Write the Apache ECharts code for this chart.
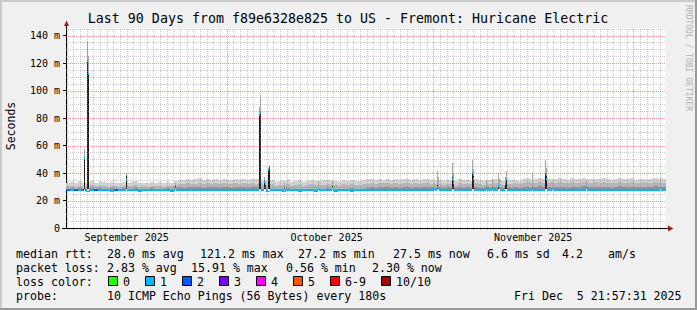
<!DOCTYPE html>
<html><head><meta charset="utf-8">
<script src="https://cdn.jsdelivr.net/npm/echarts@6/dist/echarts.min.js"></script>
<style>html,body{margin:0;padding:0;background:#f0f0f0}#c{width:697px;height:310px}</style>
</head><body><div id="c"></div>
<script>
// ---------------- data ----------------
const chartTitle = 'Last 90 Days from f89e6328e825 to US - Fremont: Huricane Electric';
const yTicks = [0, 20, 40, 60, 80, 100, 120, 140];
const yMax = 145.5;
const monthLabels = ['September 2025', 'October 2025', 'November 2025'];
const monthLabelDays = [9.085, 39.085, 70.085];   // days since start (Sep 6 21:57)
const monthStartDays = [24.085, 55.085, 85.085];  // Oct 1, Nov 1, Dec 1
const firstMidnight = 0.085;
const colDays = 0.6;                                // one smoke column = 0.6 day

const smokeTop = [
  32.8,33.4,32.5,33.9,32.7,33.1,34.0,32.9,33.5,33.2,
  32.6,33.8,33.0,32.4,33.6,32.9,33.3,34.2,32.8,33.1,
  32.7,33.5,32.9,33.2,32.6,33.7,33.0,34.4,
  35.2,34.6,35.8,34.9,35.4,36.1,34.8,35.5,35.0,
  35.6,34.9,35.9,35.2,34.7,35.7,35.1,36.0,34.8,35.4,35.3,35.8,
  34.2,33.9,34.8,33.6,34.5,34.0,35.1,33.8,34.4,34.9,33.7,34.3,35.0,34.1,33.9,34.6,35.2,34.0,34.4,33.8,34.7,34.2,35.0,34.5,33.9,34.8,35.3,
  35.5,34.9,35.8,35.2,36.0,35.1,35.6,34.8,35.9,35.3,35.0,35.7,34.9,35.4,35.8,35.1,
  34.6,35.0,34.3,35.2,34.8,34.1,35.4,34.7,35.0,34.4,35.3,34.9,34.2,35.1,34.6,35.5,34.8,34.3,35.0,34.7,35.2,34.5,
  35.6,36.2,35.1,35.8,36.4,35.3,35.9,36.0,35.4,36.3,35.7,35.2,36.1,35.5,35.9,36.5,35.3,35.8,36.0,35.4,36.2,35.6,35.1,35.9,36.3,35.5,35.8,36.1,35.2,35.7,36.0,35.4,35.9,36.4,35.6,35.3
];
const smokeMid = [
  30.2,30.5,29.9,30.8,30.1,30.4,31.0,30.2,30.6,30.3,
  30.0,30.7,30.3,29.8,30.6,30.2,30.5,31.1,30.1,30.4,
  30.0,30.6,30.2,30.4,29.9,30.8,30.3,31.2,
  32.1,31.7,32.6,31.9,32.3,32.8,31.8,32.4,32.0,
  32.5,32.0,32.8,32.2,31.9,32.6,32.1,32.9,31.8,32.4,32.3,32.7,
  31.3,31.0,31.7,30.8,31.5,31.1,31.9,30.9,31.4,31.8,30.9,31.3,31.8,31.2,31.0,31.6,32.0,31.1,31.4,30.9,31.7,31.2,31.9,31.5,31.0,31.7,32.1,
  32.6,32.1,32.9,32.4,33.0,32.3,32.7,32.0,32.9,32.5,32.2,32.8,32.1,32.5,32.9,32.3,
  31.8,32.2,31.6,32.3,32.0,31.5,32.5,31.9,32.2,31.7,32.4,32.1,31.5,32.3,31.8,32.6,32.0,31.6,32.2,31.9,32.4,31.8,
  32.8,33.3,32.4,33.0,33.5,32.6,33.1,33.2,32.7,33.4,32.9,32.5,33.3,32.8,33.1,33.6,32.6,33.0,33.2,32.7,33.4,32.9,32.4,33.1,33.5,32.8,33.0,33.3,32.5,32.9,33.2,32.7,33.1,33.6,32.9,32.6
];
const smokeDark = [
  28.5,28.8,28.4,28.9,28.6,28.7,29.0,28.5,28.8,28.6,
  28.4,28.9,28.6,28.3,28.8,28.5,28.7,29.1,28.5,28.7,
  28.4,28.8,28.6,28.7,28.4,28.9,28.6,29.2,
  29.6,29.3,29.9,29.5,29.7,30.0,29.4,29.8,29.5,
  29.8,29.4,30.0,29.6,29.3,29.9,29.5,30.1,29.4,29.7,29.6,29.9,
  28.4,28.2,28.6,28.1,28.5,28.3,28.8,28.2,28.4,28.7,28.1,28.4,28.7,28.3,28.2,28.6,28.9,28.3,28.5,28.2,28.6,28.4,28.8,28.5,28.2,28.6,28.9,
  29.6,29.3,29.9,29.5,30.1,29.4,29.8,29.2,29.9,29.6,29.4,29.8,29.3,29.7,30.0,29.5,
  29.2,29.5,29.0,29.6,29.3,28.9,29.7,29.2,29.5,29.1,29.6,29.4,28.9,29.5,29.2,29.8,29.3,29.0,29.5,29.2,29.6,29.1,
  29.6,30.0,29.4,29.8,30.2,29.5,29.9,30.0,29.6,30.1,29.7,29.4,30.0,29.6,29.9,30.3,29.5,29.8,30.0,29.6,30.1,29.7,29.4,29.9,30.2,29.6,29.8,30.0,29.5,29.8,30.0,29.6,29.9,30.3,29.7,29.5
];
const medianRtt = [
  27.3,27.3,27.4,27.3,27.3,27.2,27.3,27.4,27.3,27.3,
  27.3,27.2,27.3,27.3,27.4,27.3,27.3,27.3,27.2,27.3,
  27.3,27.3,27.4,27.3,27.3,27.3,27.2,27.3,27.4,27.3,
  27.3,27.4,27.3,27.3,27.3,27.4,27.3,27.3,27.3,27.4,
  27.3,27.3,27.4,27.3,27.3,27.3,27.4,27.3,27.3,27.3,
  27.2,27.3,27.3,27.3,27.2,27.3,27.3,27.3,27.2,27.3,
  27.3,27.3,27.2,27.3,27.3,27.3,27.3,27.2,27.3,27.3,
  27.3,27.2,27.3,27.3,27.3,27.3,27.4,27.3,27.3,27.4,
  27.3,27.3,27.4,27.3,27.3,27.3,27.4,27.3,27.3,27.3,
  27.3,27.3,27.3,27.4,27.3,27.3,27.3,27.3,27.4,27.3,
  27.3,27.3,27.3,27.4,27.3,27.3,27.3,27.3,27.3,27.4,
  27.3,27.3,27.3,27.3,27.4,27.3,27.3,27.3,27.4,27.3,
  27.3,27.3,27.4,27.3,27.3,27.3,27.3,27.4,27.3,27.3,
  27.3,27.4,27.3,27.3,27.3,27.3,27.4,27.3,27.3,27.3,
  27.3,27.3,27.4,27.3,27.3,27.3,27.3,27.4,27.3,27.5
];
const lossIdx = [
  2,1,2,1,2,1,1,2,1,1, 1,1,2,1,1,1,1,1,1,1, 1,1,1,1,1,1,1,1,1,1,
  1,1,1,1,1,1,1,1,1,1, 1,1,1,1,1,1,1,1,1,1, 1,1,1,1,1,1,1,1,1,1,
  1,1,1,1,1,1,1,1,1,1, 1,1,1,1,1,1,1,1,1,1, 1,1,1,1,1,1,1,1,1,1,
  1,1,1,1,1,1,1,1,1,1, 1,1,1,1,1,1,1,1,1,1, 1,1,1,1,1,1,1,1,1,1,
  1,1,1,1,1,1,1,1,1,1, 1,1,1,1,1,1,1,1,1,1, 1,1,1,1,1,1,1,1,1,1
];
// short latency spikes (single columns)
const spikeDay    = [2.70,3.15,3.30,9.00,16.35,28.95,29.10,29.70,29.85,30.30,30.45,32.70,37.80,39.90,55.20,55.65,55.80,57.90,58.05,60.90,61.05,63.00,63.90,64.80,64.95,65.85,66.00,69.90,71.85,72.00,72.90,78.00,89.10];
const spikeMedian = [51.0,121.2,112.0,35.8,29.0,82.0,84.0,33.8,30.0,42.0,43.7,28.5,28.5,29.0,28.4,29.8,29.0,36.0,33.0,39.9,36.0,28.5,28.5,30.6,29.0,32.0,35.5,28.5,39.8,36.0,28.5,28.8,29.0];
const spikeDark   = [51.0,121.2,112.0,37.9,30.6,82.0,84.8,35.0,31.0,43.0,44.5,29.5,28.8,30.6,29.0,31.4,30.0,37.0,34.0,40.3,37.5,29.5,29.8,31.4,30.0,33.0,35.9,29.8,40.3,38.0,29.0,29.5,29.8];
const spikeTop    = [57.5,136.0,125.0,39.9,33.0,88.0,97.0,37.0,34.0,44.0,46.0,33.0,34.0,35.0,33.0,41.8,37.0,47.2,40.0,49.6,43.0,35.0,35.5,39.9,36.0,37.0,41.8,39.9,49.6,44.0,33.0,34.0,37.0];
const spikeLoss   = [1,1,1,1,1,1,1,1,2,1,2,1,1,1,1,1,1,1,1,1,1,1,1,1,1,1,1,1,1,1,1,1,1];

const lossLabels = ['0', '1', '2', '3', '4', '5', '6-9', '10/10'];
const lossColors = ['#26ff00', '#00b8ff', '#0059ff', '#7e00ff', '#ff00ff', '#ff5500', '#ff0000', '#a10000'];

const legendRow1 = [['median rtt:', 16], ['28.0 ms avg', 107], ['121.2 ms max', 200], ['27.2 ms min', 298], ['27.5 ms now', 393], ['6.6 ms sd', 487], ['4.2', 562], ['am/s', 608]];
const legendRow2 = [['packet loss:', 16], ['2.83 % avg', 107], ['15.91 % max', 191], ['0.56 % min', 286], ['2.30 % now', 372]];
const legendRow4 = [['probe:', 16], ['10 ICMP Echo Pings (56 Bytes) every 180s', 107], ['Fri Dec  5 21:57:31 2025', 514]];

// ---------------- chart ----------------
const MONO = 'DejaVu Sans Mono';
const chart = echarts.init(document.getElementById('c'), null, {renderer: 'svg'});

const dayLines = [];
for (let d = firstMidnight; d < 90; d += 1) {
  if (!monthStartDays.some(m => Math.abs(m - d) < 1e-6)) dayLines.push([d, 0]);
}
const minorH = [], majorH = [];
for (let v = 5; v < yMax; v += 5) { if (v % 20 === 0) majorH.push([0, v]); else minorH.push([0, v]); }

function vLine(color) {
  return function (p, api) {
    const x = Math.round(api.coord([api.value(0), 0])[0]) + 0.5;
    const y0 = api.coord([0, 0])[1] + 2;
    const y1 = api.coord([0, yMax])[1];
    return {type: 'line', shape: {x1: x, y1: y0, x2: x, y2: y1}, style: {stroke: color, lineWidth: 1, lineDash: [1, 1]}};
  };
}
function hLine(color) {
  return function (p, api) {
    const y = Math.round(api.coord([0, api.value(1)])[1]) + 0.5;
    const x0 = api.coord([0, 0])[0];
    const x1 = api.coord([90, 0])[0];
    return {type: 'line', shape: {x1: x0, y1: y, x2: x1, y2: y}, style: {stroke: color, lineWidth: 1, lineDash: [1, 1]}};
  };
}

function smokeItem(p, api) {
  const d = api.value(0);
  const x0 = Math.round(api.coord([d, 0])[0]);
  const x1 = Math.round(api.coord([d + colDays, 0])[0]);
  const yOf = v => Math.round(api.coord([d, v])[1]);
  const yb = yOf(api.value(1));
  const ch = [];
  [[4, '#d2d2d2'], [3, '#b6b6b6'], [2, '#929292']].forEach(([k, c]) => {
    const yt = yOf(api.value(k));
    ch.push({type: 'rect', shape: {x: x0, y: yt, width: x1 - x0, height: Math.max(0, yb - yt)}, style: {fill: c}});
  });
  ch.push({type: 'rect', shape: {x: x0, y: yb - 1, width: x1 - x0, height: 2}, style: {fill: lossColors[api.value(5)]}});
  return {type: 'group', children: ch};
}
function spikeItem(p, api) {
  const d = api.value(0);
  const x0 = Math.round(api.coord([d, 0])[0]);
  const yOf = v => Math.round(api.coord([d, v])[1]);
  const base = yOf(27.3);
  const ym = yOf(api.value(1)), yd = yOf(api.value(2)), yt = yOf(api.value(3));
  return {type: 'group', children: [
    {type: 'rect', shape: {x: x0, y: base - 1, width: 1, height: 2}, style: {fill: '#ffffff'}},
    {type: 'rect', shape: {x: x0, y: yt, width: 1, height: base - 1 - yt}, style: {fill: '#a8a8a8'}},
    {type: 'rect', shape: {x: x0, y: yd, width: 1, height: base - 1 - yd}, style: {fill: '#1c1c1c'}},
    {type: 'rect', shape: {x: x0, y: ym - 1, width: 1, height: 2}, style: {fill: lossColors[api.value(4)]}}
  ]};
}

const smokeData = smokeTop.map((t, i) => [i * colDays, medianRtt[i], smokeDark[i], smokeMid[i], t, lossIdx[i]]);
const spikeData = spikeDay.map((d, i) => [d, spikeMedian[i], spikeDark[i], spikeTop[i], spikeLoss[i]]);

// graphic: texts, frame, arrows, legend
const g = [];
g.push({type: 'rect', shape: {x: 0, y: 0, width: 697, height: 2}, style: {fill: '#cbcbcb'}, silent: true});
g.push({type: 'rect', shape: {x: 0, y: 0, width: 2, height: 310}, style: {fill: '#cbcbcb'}, silent: true});
g.push({type: 'rect', shape: {x: 0, y: 308, width: 697, height: 2}, style: {fill: '#999999'}, silent: true});
g.push({type: 'rect', shape: {x: 695, y: 0, width: 2, height: 310}, style: {fill: '#999999'}, silent: true});
g.push({type: 'text', x: 348, y: 18.5, style: {text: chartTitle, font: '13.3px "' + MONO + '"', fill: '#000', textAlign: 'center', textVerticalAlign: 'middle'}});
g.push({type: 'text', x: 10.5, y: 126, rotation: Math.PI / 2, style: {text: 'Seconds', font: '11.5px "' + MONO + '"', fill: '#000', textAlign: 'center', textVerticalAlign: 'middle'}});
g.push({type: 'text', x: 688, y: 5, rotation: -Math.PI / 2, style: {text: 'RRDTOOL / TOBI OETIKER', font: '8px "' + MONO + '"', fill: '#b0b0b0', textAlign: 'left', textVerticalAlign: 'middle'}});
// axis extensions and arrows
g.push({type: 'line', shape: {x1: 66.5, y1: 28, x2: 66.5, y2: 24}, style: {stroke: '#000', lineWidth: 1}});
g.push({type: 'line', shape: {x1: 666, y1: 228.5, x2: 669, y2: 228.5}, style: {stroke: '#000', lineWidth: 1}});
g.push({type: 'line', shape: {x1: 62, y1: 228.5, x2: 66, y2: 228.5}, style: {stroke: '#000', lineWidth: 1}});
g.push({type: 'polygon', shape: {points: [[64, 26], [69, 26], [66.5, 20.5]]}, style: {fill: '#9b1c1c'}});
g.push({type: 'polygon', shape: {points: [[668, 225.5], [668, 231.5], [673.5, 228.5]]}, style: {fill: '#9b1c1c'}});
function legendRow(row, y) {
  row.forEach(([t, x]) => g.push({type: 'text', x: x, y: y, style: {text: t, font: '11.6px "' + MONO + '"', fill: '#000', textAlign: 'left', textVerticalAlign: 'middle'}}));
}
legendRow(legendRow1, 254);
legendRow(legendRow2, 268);
legendRow([['loss color:', 16]], 282);
legendRow(legendRow4, 296);
const boxX = [108, 145, 182, 219, 256, 293, 330, 381];
lossLabels.forEach((l, i) => {
  g.push({type: 'rect', shape: {x: boxX[i] + 0.5, y: 276.5, width: 9, height: 9}, style: {fill: lossColors[i], stroke: '#000', lineWidth: 1}});
  g.push({type: 'text', x: boxX[i] + 15, y: 282, style: {text: l, font: '11.6px "' + MONO + '"', fill: '#000', textAlign: 'left', textVerticalAlign: 'middle'}});
});

chart.setOption({
  animation: false,
  backgroundColor: '#f0f0f0',
  grid: {left: 66, top: 28, width: 600, height: 200, show: true, backgroundColor: '#ffffff', borderWidth: 0},
  xAxis: {
    type: 'value', min: 0, max: 90,
    axisLine: {show: true, onZero: false, lineStyle: {color: '#000', width: 1}},
    axisTick: {show: false},
    splitLine: {show: false},
    axisLabel: {customValues: monthLabelDays, formatter: v => monthLabels[monthLabelDays.indexOf(v)] || '',
      fontSize: 10, fontFamily: MONO, color: '#000', margin: 4}
  },
  yAxis: {
    type: 'value', min: 0, max: yMax,
    axisLine: {show: true, lineStyle: {color: '#000', width: 1}},
    axisTick: {show: true, customValues: yTicks, length: 3, lineStyle: {color: '#000'}},
    axisLabel: {customValues: yTicks, formatter: v => (v === 0 ? '0' : v + ' m'),
      fontSize: 10, fontFamily: MONO, color: '#000', margin: 6},
    splitLine: {show: false}
  },
  series: [
    {type: 'custom', name: 'smoke', renderItem: smokeItem, data: smokeData, z: 2, silent: true},
    {type: 'custom', name: 'spikes', renderItem: spikeItem, data: spikeData, z: 3, silent: true},
    {type: 'custom', name: 'gridMinorV', renderItem: vLine('rgba(140,140,140,0.45)'), data: dayLines, z: 4, silent: true},
    {type: 'custom', name: 'gridMinorH', renderItem: hLine('rgba(140,140,140,0.45)'), data: minorH, z: 4, silent: true},
    {type: 'custom', name: 'gridMajorV', renderItem: vLine('rgba(235,60,60,0.5)'), data: monthStartDays.map(d => [d, 0]), z: 4, silent: true},
    {type: 'custom', name: 'gridMajorH', renderItem: hLine('rgba(235,60,60,0.5)'), data: majorH, z: 4, silent: true}
  ],
  graphic: g
});
</script></body></html>
